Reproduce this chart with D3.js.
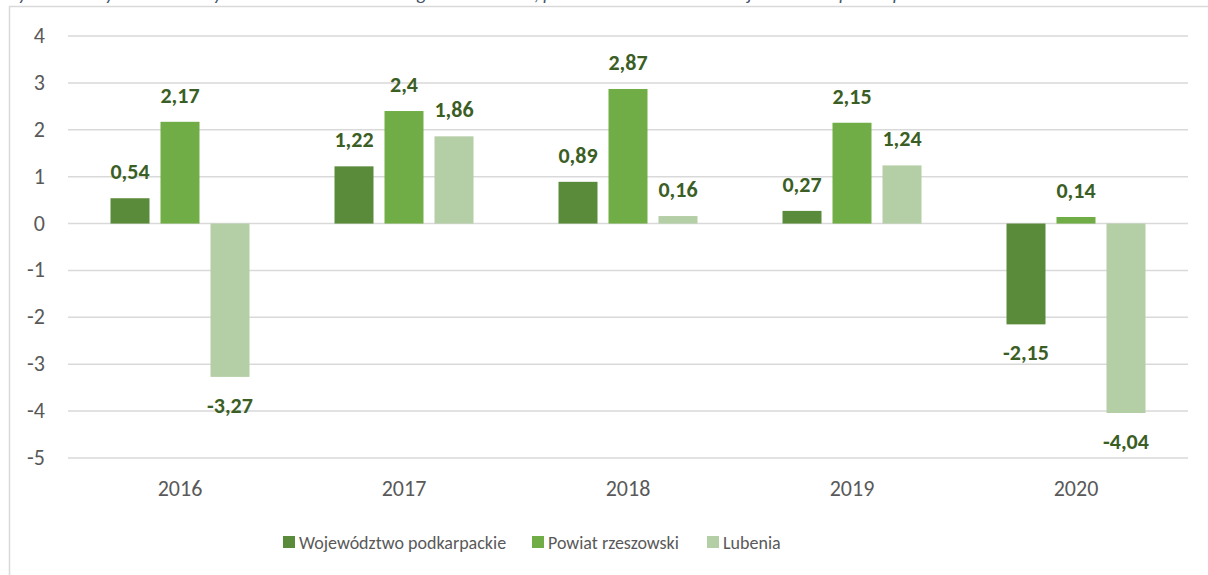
<!DOCTYPE html>
<html>
<head>
<meta charset="utf-8">
<script src="https://cdn.jsdelivr.net/npm/d3@7"></script>
<style>
  body { margin: 0; background: #fff; }
  #drawing-area { width: 1208px; height: 575px; }
  text { font-family: Carlito, Calibri, Lato, sans-serif; }
</style>
</head>
<body>
<div id="drawing-area"></div>
<script>
var years = ["2016", "2017", "2018", "2019", "2020"];
var series = ["Województwo podkarpackie", "Powiat rzeszowski", "Lubenia"];
var wojewodztwo = [0.54, 1.22, 0.89, 0.27, -2.15];
var powiat = [2.17, 2.4, 2.87, 2.15, 0.14];
var lubenia = [-3.27, 1.86, 0.16, 1.24, -4.04];
var yTicks = [4, 3, 2, 1, 0, -1, -2, -3, -4, -5];
var colors = ["#5a8b3a", "#70ad47", "#b4cea6"];
var caption = "Wykres 5. Przyrost naturalny na 1000 mieszkańców w gminie Lubenia, powiecie rzeszowskim i województwie podkarpackim";

function draw() {
    var sx = 1208, sy = 575;
    var svg = d3.select('#drawing-area').append('svg').attr('width', sx).attr('height', sy);

    // caption sits above the frame, only its bottom edge is visible
    svg.append("text")
        .attr("x", 2).attr("y", 0)
        .attr("fill", "#44546a")
        .attr("font-style", "italic")
        .attr("font-size", 19)
        .text(caption);

    // chart frame
    svg.append("rect")
        .attr("x", 9.5).attr("y", 6.5)
        .attr("width", sx).attr("height", sy)
        .attr("fill", "none").attr("stroke", "#d9d9d9").attr("stroke-width", 1.5);

    var x = d3.scaleBand().domain(years).range([68, 1188]);
    var y = d3.scaleLinear().domain([-5, 4]).range([458, 36]);
    var barW = 39, gap = 11;
    var groupW = 3 * barW + 2 * gap;

    // grid
    svg.append("g").selectAll("line").data(yTicks).enter().append("line")
        .attr("x1", 68).attr("x2", 1188)
        .attr("y1", function (d) { return y(d); })
        .attr("y2", function (d) { return y(d); })
        .attr("stroke", "#d9d9d9").attr("stroke-width", 1.5);

    // y labels
    svg.append("g").selectAll("text").data(yTicks).enter().append("text")
        .attr("x", 45).attr("y", function (d) { return y(d) + 7; })
        .attr("text-anchor", "end")
        .attr("font-size", 22).attr("fill", "#595959")
        .text(function (d) { return d; });

    // x labels
    svg.append("g").selectAll("text").data(years).enter().append("text")
        .attr("x", function (d) { return x(d) + x.bandwidth() / 2; })
        .attr("y", 496)
        .attr("text-anchor", "middle")
        .attr("font-size", 22).attr("fill", "#595959")
        .text(function (d) { return d; });

    var data = [wojewodztwo, powiat, lubenia];
    var fmt = function (v) { return String(v).replace(".", ","); };

    data.forEach(function (vals, si) {
        var g = svg.append("g");
        var xpos = function (d, i) {
            return x(years[i]) + x.bandwidth() / 2 - groupW / 2 + si * (barW + gap);
        };
        g.selectAll("rect").data(vals).enter().append("rect")
            .attr("x", xpos)
            .attr("y", function (d) { return y(Math.max(0, d)); })
            .attr("width", barW)
            .attr("height", function (d) { return Math.abs(y(d) - y(0)); })
            .attr("fill", colors[si]);
        g.selectAll("text").data(vals).enter().append("text")
            .attr("x", function (d, i) { return xpos(d, i) + barW / 2; })
            .attr("y", function (d) { return d >= 0 ? y(d) - 19 : y(d) + 36; })
            .attr("text-anchor", "middle")
            .attr("font-size", 22).attr("font-weight", "bold")
            .attr("fill", "#3b5e25")
            .text(fmt);
    });

    // legend
    var legX = [283, 532, 707];
    var leg = svg.append("g");
    series.forEach(function (s, i) {
        leg.append("rect")
            .attr("x", legX[i]).attr("y", 536)
            .attr("width", 12).attr("height", 12)
            .attr("fill", colors[i]);
        leg.append("text")
            .attr("x", legX[i] + 16).attr("y", 549)
            .attr("font-size", 18).attr("fill", "#595959")
            .text(s);
    });
}
draw();
</script>
</body>
</html>
